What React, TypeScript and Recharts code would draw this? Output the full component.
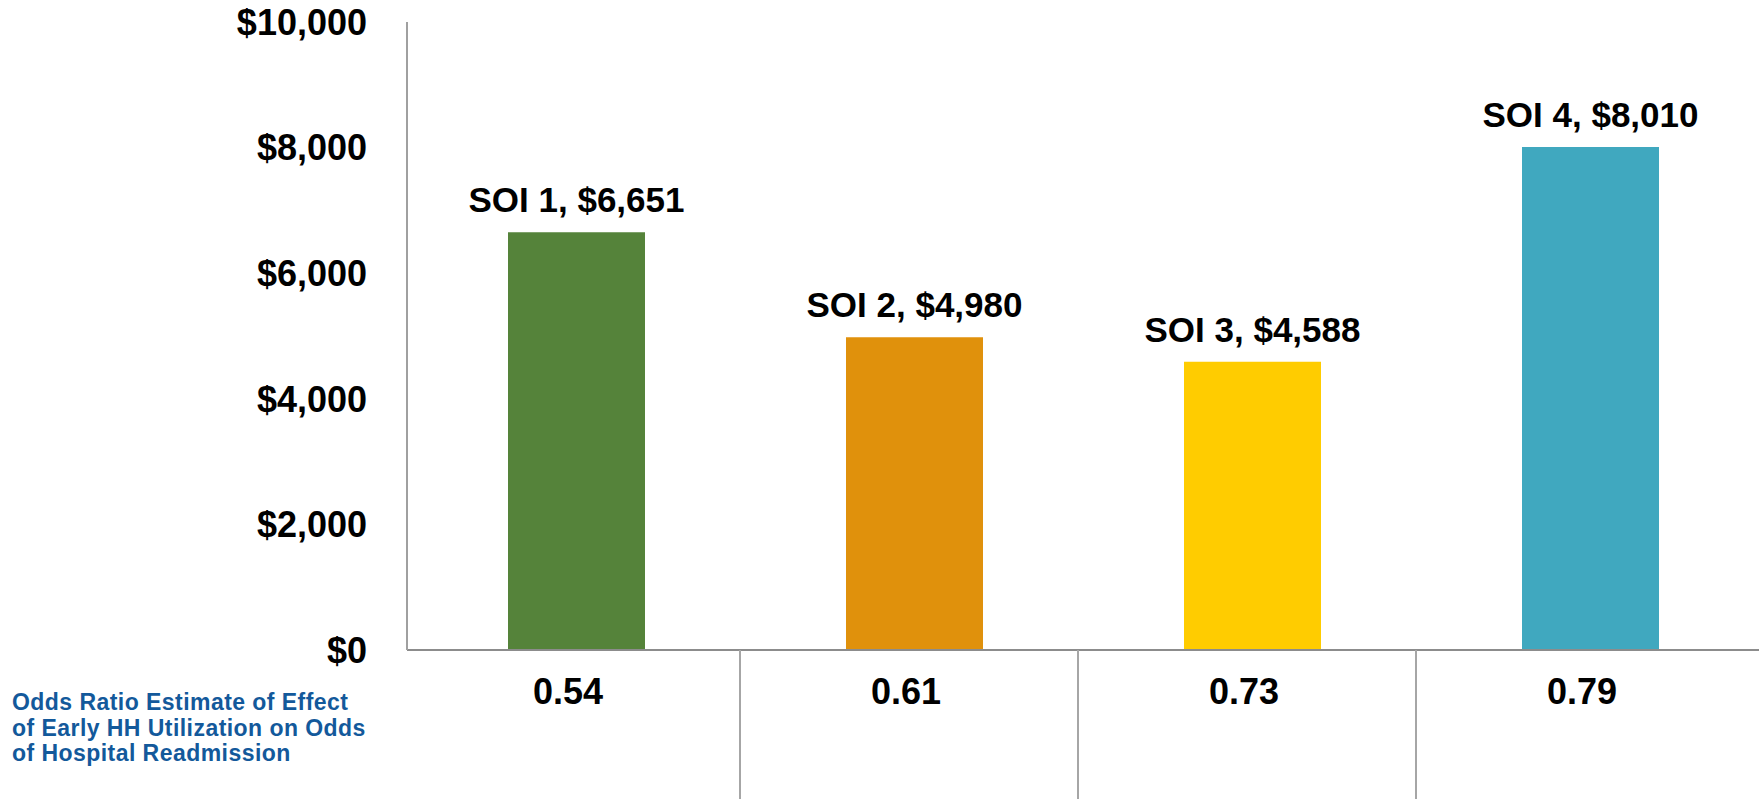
import React from "react";
import { Bar, BarChart, Cell, LabelList, XAxis, YAxis } from "recharts";

const soiNames = ["SOI 1", "SOI 2", "SOI 3", "SOI 4"];
const costs = [6651, 4980, 4588, 8010];
const oddsRatios = ["0.54", "0.61", "0.73", "0.79"];
const barColors = ["#55833A", "#E0910C", "#FFCC00", "#40A8BF"];
const yTicks = [0, 2000, 4000, 6000, 8000, 10000];
const sideNote = [
  "Odds Ratio Estimate of Effect",
  "of Early HH Utilization on Odds",
  "of Hospital Readmission",
];

const FONT = '"Liberation Sans", Arial, Helvetica, sans-serif';

const chartData = soiNames.map((name, i) => ({
  name,
  cost: costs[i],
  odds: oddsRatios[i],
}));

const money = (v: number) => `$${v.toLocaleString("en-US")}`;

function OddsTick(props: any) {
  const { x, y, payload, index } = props;
  const half = payload && payload.offset ? payload.offset : 169;
  return (
    <g>
      {index > 0 && (
        <line
          x1={x - half - 5}
          x2={x - half - 5}
          y1={y - 8}
          y2={y + 141}
          stroke="#a6a6a6"
          strokeWidth={2}
        />
      )}
      <text
        x={x - 8}
        y={y + 46}
        textAnchor="middle"
        fill="#000"
        fontSize={36}
        fontWeight="bold"
        fontFamily={FONT}
      >
        {payload.value}
      </text>
    </g>
  );
}

function BarTopLabel(props: any) {
  const { x, y, width, index, value } = props;
  return (
    <text
      x={x + width / 2}
      y={y - 20}
      textAnchor="middle"
      fill="#000"
      fontSize={35}
      fontWeight="bold"
      fontFamily={FONT}
    >
      {`${soiNames[index]}, ${money(value)}`}
    </text>
  );
}

export default function App() {
  return (
    <div
      style={{
        position: "absolute",
        left: 0,
        top: 0,
        width: 1760,
        height: 801,
        background: "#fff",
        overflow: "hidden",
      }}
    >
      <BarChart
        width={1760}
        height={801}
        data={chartData}
        margin={{ top: 22, right: 1, bottom: 0, left: 0 }}
      >
        <XAxis
          dataKey="odds"
          interval={0}
          height={151}
          tickLine={false}
          axisLine={{ stroke: "#8c8c8c", strokeWidth: 2 }}
          tick={<OddsTick />}
        />
        <YAxis
          width={407}
          domain={[0, 10000]}
          ticks={yTicks}
          tickFormatter={money}
          tickLine={false}
          tickMargin={34}
          axisLine={{ stroke: "#a0a0a0", strokeWidth: 2 }}
          tick={{
            fill: "#000",
            fontSize: 36,
            fontWeight: "bold",
            fontFamily: FONT,
          }}
        />
        <Bar dataKey="cost" barSize={137} isAnimationActive={false}>
          {chartData.map((d, i) => (
            <Cell key={d.name} fill={barColors[i]} />
          ))}
          <LabelList dataKey="cost" content={<BarTopLabel />} />
        </Bar>
      </BarChart>
      <div
        style={{
          position: "absolute",
          left: 12,
          top: 690,
          fontFamily: FONT,
          fontWeight: "bold",
          fontSize: 23,
          lineHeight: "25.5px",
          letterSpacing: 0.45,
          color: "#13599B",
          whiteSpace: "nowrap",
        }}
      >
        {sideNote.map((line) => (
          <div key={line}>{line}</div>
        ))}
      </div>
    </div>
  );
}
